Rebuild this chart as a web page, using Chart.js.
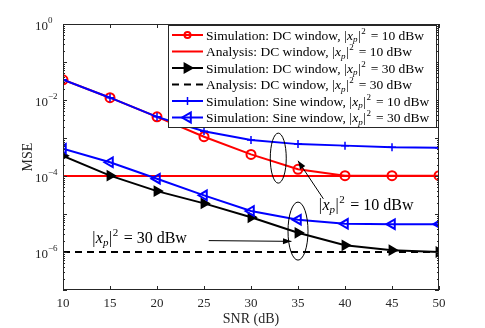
<!DOCTYPE html>
<html><head><meta charset="utf-8">
<script src="https://cdn.jsdelivr.net/npm/chart.js@4/dist/chart.umd.min.js"></script>
<style>html,body{margin:0;padding:0;background:#fff}#wrap{width:485px;height:328px;position:relative}</style>
</head><body><div id="wrap"><canvas id="c" width="485" height="328"></canvas></div>
<script>
const snr = [10,15,20,25,30,35,40,45,50];
const simDC10 = [0.034,0.0115,0.0036,0.00108,3.7e-4,1.5e-4,1.02e-4,1.02e-4,1.02e-4];
const anaDC10 = [1e-4,1e-4,1e-4,1e-4,1e-4,1e-4,1e-4,1e-4,1e-4];
const simDC30 = [3.4e-4,1.02e-4,4.0e-5,1.9e-5,8.2e-6,3.2e-6,1.5e-6,1.12e-6,1.0e-6];
const anaDC30 = [1e-6,1e-6,1e-6,1e-6,1e-6,1e-6,1e-6,1e-6,1e-6];
const simSine10 = [0.034,0.0115,0.0036,1.5e-3,8.9e-4,6.9e-4,6.3e-4,5.7e-4,5.5e-4];
const simSine30 = [5.2e-4,2.3e-4,8.5e-5,3.1e-5,1.2e-5,7.1e-6,5.5e-6,5.4e-6,5.4e-6];
const xTicks = [10,15,20,25,30,35,40,45,50];
const yTicks = [1,1e-2,1e-4,1e-6];
const yTickExp = ['0','-2','-4','-6'];
const legendNames = [
  ['Simulation: DC window, ','10'],
  ['Analysis: DC window, ','10'],
  ['Simulation: DC window, ','30'],
  ['Analysis: DC window, ','30'],
  ['Simulation: Sine window, ','10'],
  ['Simulation: Sine window, ','30']
];
const SERIF = "'Liberation Serif','Times New Roman',serif";
const AX = '#262626';

function pts(arr){ return snr.map((x,i)=>({x:x,y:arr[i]})); }

const datasets = [
  {data:pts(simDC10), borderColor:'#ff0000', borderWidth:2, pointStyle:'circle', pointRadius:4.5, pointBorderWidth:2, pointBackgroundColor:'rgba(0,0,0,0)', pointBorderColor:'#ff0000', order:6, legR:3},
  {data:pts(anaDC10), borderColor:'#ff0000', borderWidth:2, pointRadius:0, order:5},
  {data:pts(simDC30), borderColor:'#000000', borderWidth:2, pointStyle:'triangle', pointRotation:90, pointRadius:5, pointBorderWidth:1.8, pointBackgroundColor:'#000', pointBorderColor:'#000', order:4, legR:5},
  {data:pts(anaDC30), borderColor:'#000000', borderWidth:2, borderDash:[7,5], pointRadius:0, order:3},
  {data:pts(simSine10), borderColor:'#0000ff', borderWidth:2, pointStyle:'cross', pointRadius:4, pointBorderWidth:1.5, pointBorderColor:'#0000ff', order:2, legR:4},
  {data:pts(simSine30), borderColor:'#0000ff', borderWidth:2, pointStyle:'triangle', pointRotation:-90, pointRadius:5.5, pointBorderWidth:2, pointBackgroundColor:'rgba(0,0,0,0)', pointBorderColor:'#0000ff', order:1, legR:5.5}
];

function drawMath(ctx, x, y, size, pre, val){
  ctx.textBaseline='alphabetic'; ctx.textAlign='left';
  ctx.font = size+'px '+SERIF;
  ctx.fillText(pre, x, y); x += ctx.measureText(pre).width;
  ctx.fillText('|', x, y); x += ctx.measureText('|').width+0.5;
  ctx.font = 'italic '+size+'px '+SERIF;
  ctx.fillText('x', x, y); x += ctx.measureText('x').width;
  ctx.font = 'italic '+Math.round(size*0.7)+'px '+SERIF;
  ctx.fillText('p', x, y+size*0.2); x += ctx.measureText('p').width+0.5;
  ctx.font = size+'px '+SERIF;
  ctx.fillText('|', x, y); x += ctx.measureText('|').width;
  ctx.font = Math.round(size*0.7)+'px '+SERIF;
  ctx.fillText('2', x+0.5, y-size*0.42); x += ctx.measureText('2').width+1;
  ctx.font = size+'px '+SERIF;
  ctx.fillText(' = '+val+' dBw', x+1, y);
  return x;
}

function marker(ctx, ds, x, y){
  const r = ds.legR;
  if(!r) return;
  ctx.save();
  ctx.strokeStyle = ds.borderColor; ctx.fillStyle = ds.pointBackgroundColor||'transparent';
  ctx.lineWidth = ds.pointBorderWidth||1.5;
  if(ds.pointStyle==='circle'){ctx.beginPath();ctx.arc(x,y,r,0,Math.PI*2);ctx.stroke();}
  else if(ds.pointStyle==='cross'){ctx.beginPath();ctx.moveTo(x-r,y);ctx.lineTo(x+r,y);ctx.moveTo(x,y-r);ctx.lineTo(x,y+r);ctx.stroke();}
  else if(ds.pointStyle==='triangle'){
    const dir = ds.pointRotation===90?1:-1;
    ctx.beginPath();ctx.moveTo(x+dir*r,y);ctx.lineTo(x-dir*r*0.6,y-r*0.9);ctx.lineTo(x-dir*r*0.6,y+r*0.9);ctx.closePath();
    ctx.fill();ctx.stroke();
  }
  ctx.restore();
}

function arrow(ctx,x1,y1,x2,y2){
  ctx.beginPath();ctx.moveTo(x1,y1);ctx.lineTo(x2,y2);ctx.stroke();
  const a=Math.atan2(y2-y1,x2-x1), L=9, w=0.35;
  ctx.beginPath();ctx.moveTo(x2,y2);
  ctx.lineTo(x2-L*Math.cos(a-w),y2-L*Math.sin(a-w));
  ctx.lineTo(x2-L*Math.cos(a+w),y2-L*Math.sin(a+w));ctx.closePath();ctx.fill();
}

const deco = {
  id:'deco',
  beforeDatasetsDraw(chart){
    const ctx=chart.ctx, a=chart.chartArea;
    ctx.save();ctx.fillStyle='#fff';ctx.fillRect(a.left,a.top,a.right-a.left,a.bottom-a.top);ctx.restore();
  },
  afterDatasetsDraw(chart){
    const ctx=chart.ctx, a=chart.chartArea, xs=chart.scales.x, ys=chart.scales.y;
    ctx.save();
    ctx.strokeStyle=AX; ctx.lineWidth=1;
    ctx.strokeRect(a.left+0.5,a.top+0.5,a.right-a.left-1,a.bottom-a.top-1);
    ctx.beginPath();
    xTicks.forEach(v=>{const px=Math.round(xs.getPixelForValue(v))+0.5;ctx.moveTo(px,a.bottom);ctx.lineTo(px,a.bottom-4);ctx.moveTo(px,a.top);ctx.lineTo(px,a.top+4);});
    for(let e=-7;e<=0;e++){
      for(let m=1;m<10;m++){
        const v=m*Math.pow(10,e); if(v>1) break;
        const py=Math.round(ys.getPixelForValue(v))+0.5, L=(m===1)?4:2;
        ctx.moveTo(a.left,py);ctx.lineTo(a.left+L,py);ctx.moveTo(a.right,py);ctx.lineTo(a.right-L,py);
      }
    }
    ctx.stroke();
    ctx.fillStyle=AX; ctx.textBaseline='middle';
    yTicks.forEach((v,i)=>{
      const py=ys.getPixelForValue(v);
      ctx.font='13px '+SERIF; ctx.textAlign='right';
      ctx.fillText('10', a.left-15, py+3);
      ctx.font='9px '+SERIF; ctx.textAlign='left';
      ctx.fillText(yTickExp[i].replace('-','\u2212'), a.left-15, py-3);
    });
    ctx.strokeStyle='#000';ctx.fillStyle='#000';ctx.lineWidth=1;
    const e1x=xs.getPixelForValue(32.9), e1y=ys.getPixelForValue(Math.pow(10,-3.53));
    ctx.beginPath();ctx.ellipse(e1x,e1y,8,25,0,0,Math.PI*2);ctx.stroke();
    const e2x=xs.getPixelForValue(35.0), e2y=ys.getPixelForValue(Math.pow(10,-5.45));
    ctx.beginPath();ctx.ellipse(e2x,e2y,10,29,0,0,Math.PI*2);ctx.stroke();
    arrow(ctx, xs.getPixelForValue(37.7), ys.getPixelForValue(Math.pow(10,-4.6)), xs.getPixelForValue(35.0), ys.getPixelForValue(Math.pow(10,-3.6)));
    arrow(ctx, xs.getPixelForValue(25.5), ys.getPixelForValue(Math.pow(10,-5.7)), xs.getPixelForValue(34.3), ys.getPixelForValue(Math.pow(10,-5.72)));
    ctx.fillStyle='#000';
    drawMath(ctx, xs.getPixelForValue(37.2), ys.getPixelForValue(Math.pow(10,-4.9)), 16, '', '10');
    drawMath(ctx, xs.getPixelForValue(13.1), ys.getPixelForValue(Math.pow(10,-5.76)), 16, '', '30');
    ctx.restore();
  },
  afterDraw(chart){
    const ctx=chart.ctx;
    ctx.save();
    const L=168,T=25,R=437,B=128;
    ctx.fillStyle='#fff';ctx.fillRect(L,T,R-L,B-T);
    ctx.strokeStyle=AX;ctx.lineWidth=1;ctx.strokeRect(L+0.5,T+0.5,R-L-1,B-T-1);
    [0,1,2,3,4,5].forEach((i,k)=>{
      const ds=chart.data.datasets[i], cy=T+10+k*16.5;
      ctx.save();ctx.strokeStyle=ds.borderColor;ctx.lineWidth=2;
      ctx.setLineDash(ds.borderDash||[]);
      ctx.beginPath();ctx.moveTo(172,cy);ctx.lineTo(203,cy);ctx.stroke();ctx.restore();
      marker(ctx, ds, 187.5, cy);
      ctx.fillStyle='#000';
      drawMath(ctx, 206, cy+4.5, 13.5, legendNames[i][0], legendNames[i][1]);
    });
    ctx.restore();
  }
};

new Chart(document.getElementById('c'), {
  type:'line',
  data:{datasets:datasets},
  options:{
    responsive:false, animation:false, devicePixelRatio:1,
    layout:{padding:{left:20,right:46,top:24,bottom:0}},
    plugins:{legend:{display:false},tooltip:{enabled:false}},
    elements:{line:{tension:0}},
    scales:{
      x:{type:'linear',min:10,max:50,
        afterBuildTicks:s=>{s.ticks=xTicks.map(v=>({value:v}));},
        afterFit:s=>{s.height=38;},
        grid:{display:false,drawTicks:false},border:{display:false},
        ticks:{color:AX,font:{family:SERIF,size:13},padding:6,maxRotation:0},
        title:{display:true,text:'SNR (dB)',color:AX,font:{family:SERIF,size:14},padding:{top:0,bottom:0}}
      },
      y:{type:'logarithmic',min:1e-7,max:1,
        afterBuildTicks:s=>{s.ticks=yTicks.map(v=>({value:v}));},
        afterFit:s=>{s.width=43;},
        grid:{display:false,drawTicks:false},border:{display:false},
        ticks:{display:false},
        title:{display:true,text:'MSE',color:AX,font:{family:SERIF,size:14},padding:{top:0,bottom:0}}
      }
    }
  },
  plugins:[deco]
});
</script></body></html>
